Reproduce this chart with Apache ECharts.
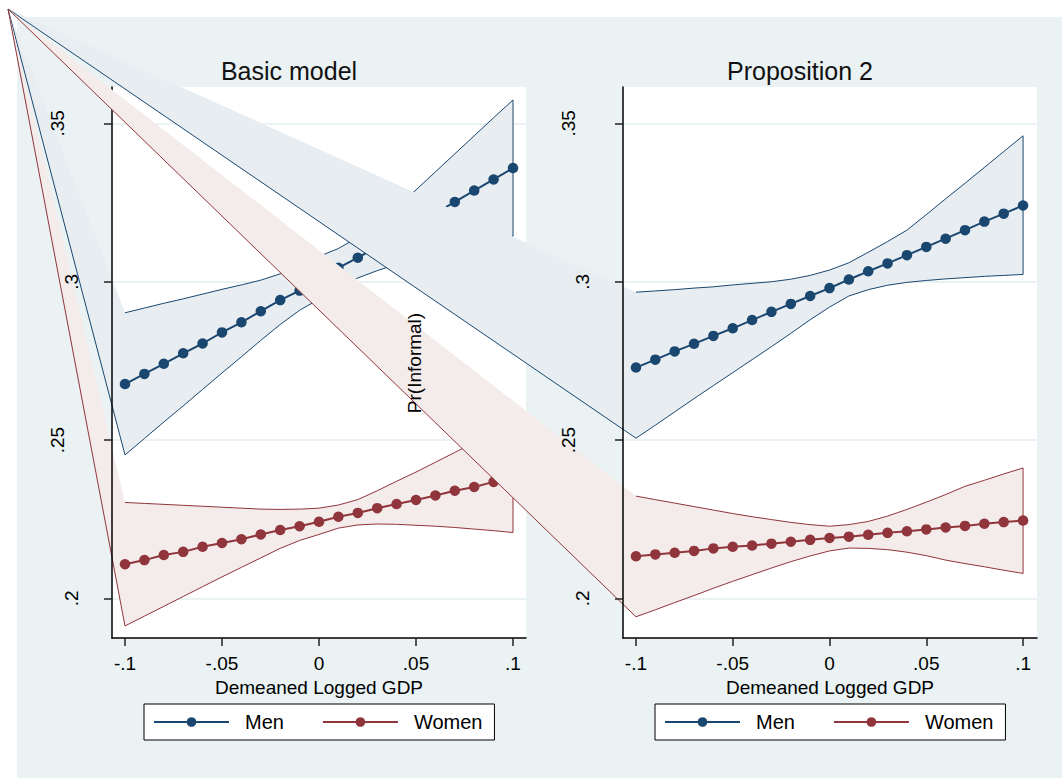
<!DOCTYPE html>
<html>
<head>
<meta charset="utf-8">
<title>Pr(Informal) by demeaned logged GDP</title>
<script src="https://cdn.jsdelivr.net/npm/echarts@6/dist/echarts.min.js"></script>
<style>
  html, body { margin: 0; padding: 0; background: #ffffff; }
  #chart { width: 1062px; height: 778px; }
</style>
</head>
<body>
<div id="chart"></div>
<script>
// Predicted probability of informal work, evaluated at demeaned logged GDP values
const gdpValues = [-0.1, -0.09, -0.08, -0.07, -0.06, -0.05, -0.04, -0.03, -0.02, -0.01, 0,
                   0.01, 0.02, 0.03, 0.04, 0.05, 0.06, 0.07, 0.08, 0.09, 0.1];

// Basic model
const basicMen     = [0.2677, 0.2709, 0.2741, 0.2774, 0.2805, 0.2840, 0.2872, 0.2907, 0.2942, 0.2972, 0.3008,
                      0.3044, 0.3076, 0.3110, 0.3146, 0.3180, 0.3216, 0.3252, 0.3288, 0.3323, 0.3359];
const basicMenLo   = [0.2453, 0.2505, 0.2557, 0.2608, 0.2660, 0.2712, 0.2763, 0.2815, 0.2865, 0.2910, 0.2945,
                      0.2980, 0.3012, 0.3035, 0.3055, 0.3070, 0.3085, 0.3100, 0.3115, 0.3130, 0.3144];
const basicMenHi   = [0.2902, 0.2917, 0.2932, 0.2946, 0.2961, 0.2976, 0.2990, 0.3005, 0.3025, 0.3050, 0.3080,
                      0.3105, 0.3140, 0.3185, 0.3235, 0.3290, 0.3347, 0.3404, 0.3461, 0.3518, 0.3574];
const basicWomen   = [0.2108, 0.2121, 0.2137, 0.2147, 0.2163, 0.2175, 0.2187, 0.2202, 0.2216, 0.2228, 0.2242,
                      0.2258, 0.2270, 0.2285, 0.2298, 0.2311, 0.2325, 0.2340, 0.2352, 0.2368, 0.2383];
const basicWomenLo = [0.1913, 0.1944, 0.1975, 0.2006, 0.2037, 0.2068, 0.2098, 0.2128, 0.2158, 0.2183, 0.2202,
                      0.2222, 0.2232, 0.2235, 0.2234, 0.2231, 0.2228, 0.2224, 0.2219, 0.2214, 0.2208];
const basicWomenHi = [0.2303, 0.2300, 0.2297, 0.2294, 0.2291, 0.2288, 0.2285, 0.2282, 0.2281, 0.2282, 0.2285,
                      0.2295, 0.2312, 0.2340, 0.2370, 0.2399, 0.2430, 0.2461, 0.2492, 0.2523, 0.2555];

// Proposition 2
const propMen      = [0.2729, 0.2754, 0.2780, 0.2804, 0.2829, 0.2853, 0.2879, 0.2905, 0.2930, 0.2955, 0.2980,
                      0.3007, 0.3033, 0.3058, 0.3084, 0.3110, 0.3136, 0.3163, 0.3190, 0.3215, 0.3241];
const propMenLo    = [0.2506, 0.2547, 0.2589, 0.2631, 0.2672, 0.2713, 0.2754, 0.2795, 0.2837, 0.2880, 0.2920,
                      0.2955, 0.2975, 0.2989, 0.2998, 0.3004, 0.3009, 0.3013, 0.3017, 0.3020, 0.3023];
const propMenHi    = [0.2967, 0.2971, 0.2975, 0.2980, 0.2984, 0.2990, 0.2995, 0.3000, 0.3008, 0.3020, 0.3037,
                      0.3060, 0.3093, 0.3127, 0.3163, 0.3212, 0.3262, 0.3311, 0.3361, 0.3411, 0.3461];
const propWomen    = [0.2133, 0.2139, 0.2144, 0.2150, 0.2158, 0.2163, 0.2167, 0.2173, 0.2179, 0.2185, 0.2191,
                      0.2195, 0.2201, 0.2207, 0.2212, 0.2218, 0.2224, 0.2229, 0.2236, 0.2241, 0.2246];
const propWomenLo  = [0.1942, 0.1964, 0.1987, 0.2009, 0.2032, 0.2054, 0.2075, 0.2096, 0.2116, 0.2134, 0.2150,
                      0.2159, 0.2158, 0.2154, 0.2146, 0.2135, 0.2121, 0.2110, 0.2100, 0.2089, 0.2079];
const propWomenHi  = [0.2323, 0.2312, 0.2301, 0.2290, 0.2279, 0.2268, 0.2258, 0.2249, 0.2240, 0.2233, 0.2228,
                      0.2233, 0.2243, 0.2260, 0.2281, 0.2304, 0.2328, 0.2354, 0.2373, 0.2393, 0.2412];

// Axis ticks and labels
const xTicks = [-0.1, -0.05, 0, 0.05, 0.1];
const yTicks = [0.2, 0.25, 0.3, 0.35];
const yLabelsOuter = [0.25, 0.35];
const yLabelsInner = [0.2, 0.3];
const panelTitles = ['Basic model', 'Proposition 2'];
const groupNames = ['Men', 'Women'];
const xTitle = 'Demeaned Logged GDP';
const yTitle = 'Pr(Informal)';

const FONT = '"Liberation Sans", Arial, Helvetica, sans-serif';
const NAVY = '#1a476f';
const MAROON = '#90353b';
const NAVY_FILL = '#e8edf1';
const MAROON_FILL = '#f4ebeb';
const BG = '#eaf2f3';

// Each band outline starts from this point of the canvas
const pathStart = [8, 9];

function fmtTick(v) {
  if (v === 0) return '0';
  return String(v).replace('0.', '.');
}

function bandRenderer(lo, hi, fill, stroke) {
  return function (params, api) {
    if (params.dataIndex !== 0) return null;
    const lower = gdpValues.map((x, i) => api.coord([x, lo[i]]));
    const upper = gdpValues.map((x, i) => api.coord([x, hi[i]])).reverse();
    const outline = [pathStart].concat(lower, upper);
    return {
      type: 'group',
      children: [
        { type: 'polygon', shape: { points: outline }, style: { fill: fill, stroke: 'none' } },
        { type: 'polyline', shape: { points: outline }, style: { fill: 'none', stroke: stroke, lineWidth: 1 } }
      ]
    };
  };
}

function bandSeries(name, grid, lo, hi, fill, stroke, z) {
  return {
    name: name, type: 'custom', coordinateSystem: 'cartesian2d',
    xAxisIndex: grid, yAxisIndex: grid * 3,
    data: gdpValues.map((x, i) => [x, lo[i], hi[i]]),
    encode: { x: 0, y: [1, 2] },
    renderItem: bandRenderer(lo, hi, fill, stroke),
    clip: false, silent: true, z: z
  };
}

function lineSeries(name, grid, vals, color, z) {
  return {
    name: name, type: 'line',
    xAxisIndex: grid, yAxisIndex: grid * 3,
    data: gdpValues.map((x, i) => [x, vals[i]]),
    symbol: 'circle', symbolSize: 10.5, showSymbol: true,
    lineStyle: { color: color, width: 2 },
    itemStyle: { color: color },
    clip: false, silent: true, animation: false, z: z
  };
}

// Two panels share the same y range
const grids = [
  { left: 112, top: 87, width: 414, height: 551, xMin: -0.1067, xMax: 0.1067, axisZ: 3 },
  { left: 623, top: 87, width: 414, height: 551, xMin: -0.1067, xMax: 0.1072, axisZ: 5 }
];
const yMin = 0.1875, yMax = 0.3615;

const xAxes = grids.map((g, i) => ({
  type: 'value', gridIndex: i, min: g.xMin, max: g.xMax, z: g.axisZ,
  axisLine: { show: true, onZero: false, lineStyle: { color: '#000', width: 1.5 } },
  axisTick: { show: true, length: 8, customValues: xTicks, lineStyle: { color: '#222', width: 1.5 } },
  axisLabel: { customValues: xTicks, formatter: fmtTick, margin: 16, color: '#000', fontSize: 19, fontFamily: FONT },
  splitLine: { show: false },
  name: xTitle, nameLocation: 'middle', nameGap: 30,
  nameTextStyle: { color: '#000', fontSize: 19, fontFamily: FONT }
}));

const yAxes = [];
grids.forEach((g, i) => {
  // grid lines, beneath the plotted marks
  yAxes.push({
    type: 'value', gridIndex: i, min: yMin, max: yMax, z: g.axisZ - 2,
    axisLine: { show: false },
    axisTick: { show: false, customValues: yTicks },
    axisLabel: { show: false, customValues: yTicks },
    splitLine: { show: true, lineStyle: { color: BG, width: 2 } }
  });
  // axis line, ticks and the .35 / .25 labels
  yAxes.push({
    type: 'value', gridIndex: i, min: yMin, max: yMax, z: g.axisZ, position: 'left',
    axisLine: { show: true, onZero: false, lineStyle: { color: '#000', width: 1.5 } },
    axisTick: { show: true, length: 8, customValues: yTicks, lineStyle: { color: '#222', width: 1.5 } },
    axisLabel: { customValues: yLabelsOuter, formatter: fmtTick, rotate: 90, margin: 45,
                 color: '#000', fontSize: 19, fontFamily: FONT },
    splitLine: { show: false }
  });
  // the .3 / .2 labels
  yAxes.push({
    type: 'value', gridIndex: i, min: yMin, max: yMax, z: g.axisZ, position: 'left',
    axisLine: { show: false },
    axisTick: { show: false, customValues: yLabelsInner },
    axisLabel: { customValues: yLabelsInner, formatter: fmtTick, rotate: 90, margin: 31,
                 color: '#000', fontSize: 19, fontFamily: FONT },
    splitLine: { show: false }
  });
});

function legendFor(left) {
  return {
    left: left, top: 704, orient: 'horizontal',
    data: groupNames,
    itemWidth: 75, itemHeight: 12, itemGap: 38,
    padding: [8, 12, 8, 9],
    borderColor: '#000', borderWidth: 1, backgroundColor: '#ffffff',
    selectedMode: false, z: 8,
    textStyle: { color: '#000', fontSize: 20, fontFamily: FONT, padding: [0, 0, 0, 11] }
  };
}

const option = {
  backgroundColor: '#ffffff',
  animation: false,
  grid: grids.map(g => ({
    left: g.left, top: g.top, width: g.width, height: g.height,
    show: true, backgroundColor: '#ffffff', borderWidth: 0
  })),
  xAxis: xAxes,
  yAxis: yAxes,
  legend: [legendFor(144), legendFor(655)],
  graphic: [
    { type: 'rect', z: -100, silent: true, shape: { x: 17, y: 17, width: 1045, height: 761 }, style: { fill: BG } },
    { type: 'text', z: 100, silent: true, x: 289, y: 71,
      style: { text: panelTitles[0], fill: '#111', font: '25px ' + FONT, textAlign: 'center', textVerticalAlign: 'middle' } },
    { type: 'text', z: 100, silent: true, x: 800, y: 71,
      style: { text: panelTitles[1], fill: '#111', font: '25px ' + FONT, textAlign: 'center', textVerticalAlign: 'middle' } },
    { type: 'text', z: 100, silent: true, x: 414, y: 363, rotation: Math.PI / 2,
      style: { text: yTitle, fill: '#000', font: '19px ' + FONT, textAlign: 'center', textVerticalAlign: 'middle' } }
  ],
  series: [
    bandSeries('Men band', 0, basicMenLo, basicMenHi, NAVY_FILL, NAVY, 2),
    bandSeries('Women band', 0, basicWomenLo, basicWomenHi, MAROON_FILL, MAROON, 2),
    lineSeries(groupNames[0], 0, basicMen, NAVY, 2),
    lineSeries(groupNames[1], 0, basicWomen, MAROON, 2),
    bandSeries('Men band', 1, propMenLo, propMenHi, NAVY_FILL, NAVY, 4),
    bandSeries('Women band', 1, propWomenLo, propWomenHi, MAROON_FILL, MAROON, 4),
    lineSeries(groupNames[0], 1, propMen, NAVY, 4),
    lineSeries(groupNames[1], 1, propWomen, MAROON, 4)
  ]
};

const chart = echarts.init(document.getElementById('chart'), null, { renderer: 'svg', width: 1062, height: 778 });
chart.setOption(option);
</script>
</body>
</html>
